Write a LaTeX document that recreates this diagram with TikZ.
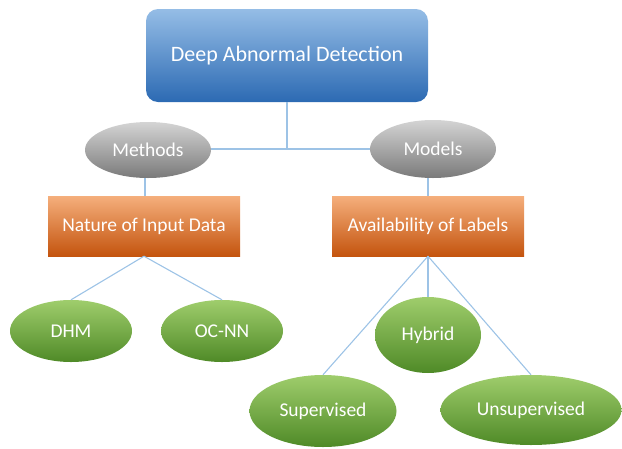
\documentclass[tikz,border=0pt]{standalone}
\usepackage{fontspec}
\setmainfont{Carlito}
\usetikzlibrary{shapes.geometric}
\definecolor{linec}{HTML}{9DC3E6}
\definecolor{bluetop}{HTML}{95BDE6}
\definecolor{bluebot}{HTML}{2C6AB3}
\definecolor{graytop}{HTML}{D4D4D4}
\definecolor{graybot}{HTML}{7A7A7A}
\definecolor{orangetop}{HTML}{F5AF7C}
\definecolor{orangebot}{HTML}{C4540E}
\definecolor{greentop}{HTML}{9FCD6C}
\definecolor{greenbot}{HTML}{4F8A27}
\tikzset{
  txt/.style={text=white, font=\fontsize{19.5}{22}\selectfont, inner sep=0pt},
  topbox/.style={txt, rectangle, rounded corners=12pt, top color=bluetop, bottom color=bluebot, minimum width=282pt, minimum height=93pt, font=\fontsize{22}{25}\selectfont},
  graynode/.style={txt, ellipse, top color=graytop, bottom color=graybot},
  orangebox/.style={txt, rectangle, top color=orangetop, bottom color=orangebot, minimum width=192pt, minimum height=60pt},
  greennode/.style={txt, ellipse, top color=greentop, bottom color=greenbot},
  conn/.style={draw=linec, line width=1.1pt}
}
\begin{document}
\begin{tikzpicture}[x=1pt,y=-1pt]
\useasboundingbox (0,0) rectangle (622,448);
\node[topbox] (dad) at (287,55.5) {Deep Abnormal Detection};
\node[graynode, minimum width=126pt, minimum height=56pt] (methods) at (148,150) {Methods};
\node[graynode, minimum width=126pt, minimum height=58pt] (models) at (433,149) {Models};
\node[orangebox] (nature) at (144,226) {Nature of Input Data};
\node[orangebox] (avail) at (428,226) {Availability of Labels};
\node[greennode, minimum width=122pt, minimum height=62pt] (dhm) at (71,331) {DHM};
\node[greennode, minimum width=122pt, minimum height=62pt] (ocnn) at (222,331) {OC-NN};
\node[greennode, minimum width=106pt, minimum height=76pt] (hybrid) at (428,335) {Hybrid};
\node[greennode, minimum width=147pt, minimum height=72pt] (sup) at (323,411) {Supervised};
\node[greennode, minimum width=181pt, minimum height=70pt] (unsup) at (531,410) {Unsupervised};
\coordinate (junc) at (287,149);
\coordinate (m1) at (145,178);
\coordinate (m2) at (428,178);
\draw[conn] (dad.south) -- (junc);
\draw[conn] (methods.east |- junc) -- (models.west |- junc);
\draw[conn] (m1) -- (nature.north -| m1);
\draw[conn] (m2) -- (avail.north);
\draw[conn] (nature.south) -- (dhm.north);
\draw[conn] (nature.south) -- (ocnn.north);
\draw[conn] (avail.south) -- (hybrid.north);
\draw[conn] (avail.south) -- (sup.north);
\draw[conn] (avail.south) -- (unsup.north);
\end{tikzpicture}
\end{document}
